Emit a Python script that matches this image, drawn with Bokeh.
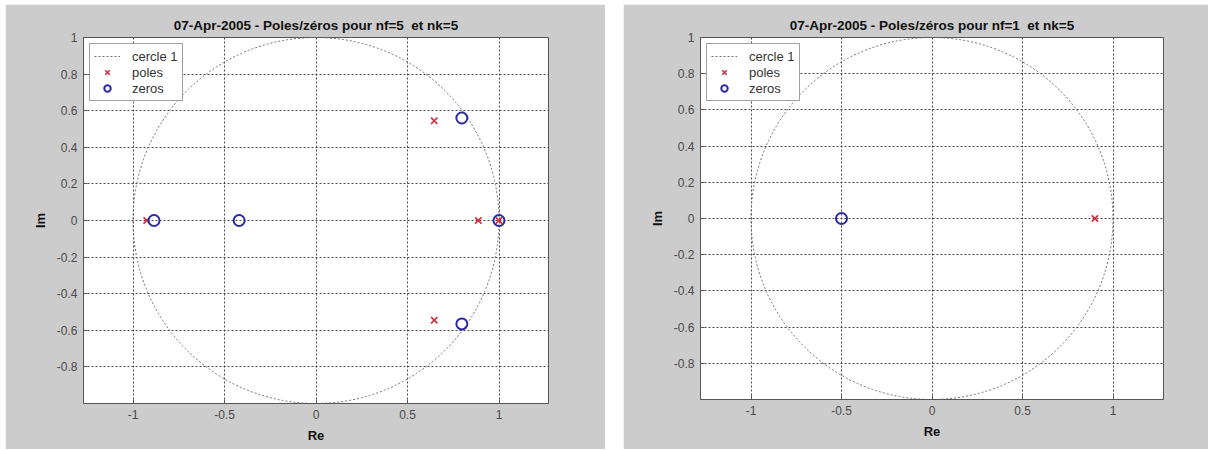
from bokeh.plotting import figure
from bokeh.layouts import row, column
from bokeh.models import Range1d, FixedTicker, Legend, LegendItem, Spacer
from bokeh.embed import file_html
from bokeh.resources import INLINE

# ---- data ----
titles = ["07-Apr-2005 - Poles/zéros pour nf=5\u00a0 et nk=5",
          "07-Apr-2005 - Poles/zéros pour nf=1\u00a0 et nk=5"]

poles1_re = [-0.925, 0.646, 0.646, 0.887, 1.0]
poles1_im = [0.0, 0.545, -0.545, 0.0, 0.0]
zeros1_re = [-0.885, -0.42, 0.797, 0.797, 1.0]
zeros1_im = [0.0, 0.0, 0.56, -0.565, 0.0]

poles2_re = [0.9]
poles2_im = [0.0]
zeros2_re = [-0.5]
zeros2_im = [0.0]

circle_center = [0.0]
circle_diameter = [2.0]

x_ticks = [-1, -0.5, 0, 0.5, 1]
x_labels = ["-1", "-0.5", "0", "0.5", "1"]
y_ticks = [-0.8, -0.6, -0.4, -0.2, 0, 0.2, 0.4, 0.6, 0.8, 1]
y_labels = ["-0.8", "-0.6", "-0.4", "-0.2", "0", "0.2", "0.4", "0.6", "0.8", "1"]
legend_labels = ["cercle 1", "poles", "zeros"]

FONT = "Liberation Sans"
GREY_BG = "#cccccc"
POLE_COLOR = "#d42a3c"
ZERO_COLOR = "#2a2aa8"
CIRCLE_COLOR = "#707070"


def make_panel(title, pr, pi, zr, zi, fw, fh, bl, br, bt, bb):
    half = fw / fh
    p = figure(frame_width=fw, frame_height=fh,
               x_range=Range1d(-half, half), y_range=Range1d(-1, 1),
               output_backend="svg", toolbar_location=None,
               min_border_left=bl, min_border_right=br,
               min_border_top=bt, min_border_bottom=bb)
    p.border_fill_color = GREY_BG
    p.background_fill_color = "white"
    p.outline_line_color = "#555555"
    p.outline_line_width = 1

    p.title.text = title
    p.title.align = "center"
    p.title.text_font = FONT
    p.title.text_font_size = "13.5px"
    p.title.text_font_style = "bold"
    p.title.text_color = "#111111"
    p.title.standoff = 9

    p.xaxis.ticker = FixedTicker(ticks=x_ticks)
    p.yaxis.ticker = FixedTicker(ticks=y_ticks)
    p.xaxis.major_label_overrides = {t: l for t, l in zip(x_ticks, x_labels)}
    p.yaxis.major_label_overrides = {t: l for t, l in zip(y_ticks, y_labels)}
    p.xaxis.axis_label = "Re"
    p.yaxis.axis_label = "Im"
    for ax in (p.xaxis[0], p.yaxis[0]):
        ax.axis_line_color = "#555555"
        ax.major_tick_in = 4
        ax.major_tick_out = 0
        ax.major_tick_line_color = "#555555"
        ax.minor_tick_line_color = None
        ax.major_label_text_font = FONT
        ax.major_label_text_font_size = "12px"
        ax.major_label_text_color = "#4a4a4a"
        ax.axis_label_text_font = FONT
        ax.axis_label_text_font_size = "13px"
        ax.axis_label_text_font_style = "bold"
        ax.axis_label_text_color = "#111111"
        ax.major_label_standoff = 6
        ax.axis_label_standoff = 6

    for g in (p.xgrid[0], p.ygrid[0]):
        g.grid_line_color = "#2a2a2a"
        g.grid_line_dash = "2 2"
        g.grid_line_alpha = 0.85
        g.grid_line_width = 1
    p.xgrid.ticker = FixedTicker(ticks=x_ticks)
    p.ygrid.ticker = FixedTicker(ticks=y_ticks)

    # unit circle
    p.ellipse(x=circle_center, y=circle_center, width=circle_diameter,
              height=circle_diameter, fill_color=None, line_color=CIRCLE_COLOR,
              line_dash="2 2", line_width=1)
    circ_leg = p.line(x=[float("nan")], y=[float("nan")], line_color=CIRCLE_COLOR,
                      line_dash="2 2", line_width=1)

    pole_r = p.scatter(x=pr, y=pi, marker="x", size=9, line_width=1.6,
                       line_color=POLE_COLOR)
    zero_r = p.scatter(x=zr, y=zi, marker="circle", size=11, line_width=2,
                       line_color=ZERO_COLOR, fill_color=None)

    legend = Legend(items=[
        LegendItem(label=legend_labels[0], renderers=[circ_leg]),
        LegendItem(label=legend_labels[1], renderers=[pole_r]),
        LegendItem(label=legend_labels[2], renderers=[zero_r]),
    ], location="top_left")
    legend.margin = 6
    legend.padding = 4
    legend.spacing = 0
    legend.label_height = 16
    legend.glyph_height = 16
    legend.glyph_width = 26
    legend.label_standoff = 12
    legend.label_text_font = FONT
    legend.label_text_font_size = "13px"
    legend.label_text_color = "#333333"
    legend.border_line_color = "#444444"
    legend.border_line_width = 1
    legend.background_fill_color = "white"
    legend.background_fill_alpha = 1
    p.add_layout(legend)
    return p


p1 = make_panel(titles[0], poles1_re, poles1_im, zeros1_re, zeros1_im,
                465, 366, 78, 57, 33, 46)
p2 = make_panel(titles[1], poles2_re, poles2_im, zeros2_re, zeros2_im,
                463, 362, 77, 45, 33, 50)

layout = column(Spacer(width=10, height=4),
                row(Spacer(width=5, height=10), p1, Spacer(width=18, height=10), p2))

open("out.html", "w", encoding="utf-8").write(file_html(layout, INLINE))
